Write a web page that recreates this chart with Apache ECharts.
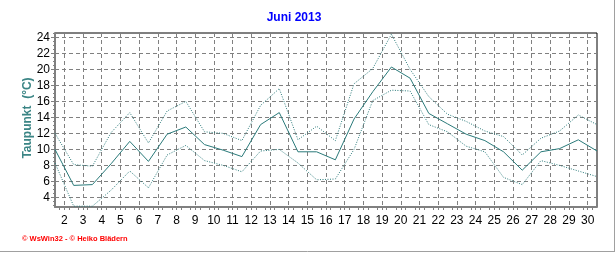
<!DOCTYPE html>
<html><head><meta charset="utf-8">
<script src="https://cdn.jsdelivr.net/npm/echarts@6/dist/echarts.min.js"></script>
<style>html,body{margin:0;padding:0;background:#fff}#c{width:616px;height:253px}</style>
</head><body><div id="c"></div>
<script>
const days = [1,2,3,4,5,6,7,8,9,10,11,12,13,14,15,16,17,18,19,20,21,22,23,24,25,26,27,28,29,30];
const xTickLabels = ['2','3','4','5','6','7','8','9','10','11','12','13','14','15','16','17','18','19','20','21','22','23','24','25','26','27','28','29','30'];
const yTickLabels = [4,6,8,10,12,14,16,18,20,22,24];
const meanValues = [10.0,5.5,5.6,8.2,11.0,8.5,11.9,12.8,10.6,9.9,9.1,13.1,14.6,9.7,9.7,8.7,13.8,17.2,20.3,18.9,14.5,13.2,11.9,11.1,9.7,7.4,9.7,10.1,11.2,9.8];
const maxValues = [12.0,8.1,7.9,12.1,14.6,10.8,14.8,16.0,12.2,12.0,11.1,15.5,17.6,11.2,12.9,11.1,18.2,20.1,24.4,20.0,16.6,14.4,13.5,12.3,11.6,9.3,11.4,12.3,14.3,13.1];
const minValues = [8.3,2.9,2.9,4.9,7.3,5.2,9.3,10.5,8.6,8.0,7.2,9.8,10.0,8.3,6.2,6.3,10.0,16.1,17.4,17.3,13.1,12.2,10.4,9.7,6.5,5.6,8.6,8.0,7.3,6.6];

const lineColor = '#2a7a7a';
const pair = arr => days.map((d, i) => [d, arr[i]]);
const yMinor = [];
for (let v = 3; v <= 24.5; v += 0.5) yMinor.push(v);

const chart = echarts.init(document.getElementById('c'), null, {renderer: 'canvas'});
const font = 'Liberation Sans, Arial, sans-serif';
chart.setOption({
  animation: false,
  backgroundColor: '#fff',
  grid: {left: 55, top: 33, width: 542, height: 174, show: true, borderColor: '#000', borderWidth: 1, backgroundColor: 'transparent'},
  xAxis: [{
    type: 'value', min: 1, max: 30, interval: 1,
    axisLine: {show: true, onZero: false, lineStyle: {color: '#808080', width: 2}},
    axisTick: {show: true, length: 3, customValues: xTickLabels.map(l => Number(l) - 0.5), lineStyle: {color: '#808080'}},
    minorTick: {show: true, splitNumber: 4, length: 3, lineStyle: {color: '#808080'}},
    axisLabel: {customValues: xTickLabels.map(l => Number(l) - 0.5), formatter: v => String(Math.round(v + 0.5)), color: '#000', fontSize: 12, fontFamily: font, margin: 8},
    splitLine: {show: true, lineStyle: {color: '#808080', type: [4, 3], width: 1}}
  }],
  yAxis: [{
    type: 'value', min: 2.8, max: 24.55,
    axisLine: {show: true, onZero: false, lineStyle: {color: '#808080', width: 2}},
    axisTick: {show: true, length: 4, customValues: yTickLabels, lineStyle: {color: '#808080'}},
    axisLabel: {customValues: yTickLabels, color: '#000', fontSize: 12, fontFamily: font, margin: 5},
    splitLine: {show: true, lineStyle: {color: '#808080', type: [4, 3], width: 1}}
  }, {
    type: 'value', min: 2.8, max: 24.55, position: 'left', offset: 0,
    axisLine: {show: false},
    axisTick: {show: true, length: 2, customValues: yMinor, lineStyle: {color: '#808080'}},
    axisLabel: {show: false},
    splitLine: {show: false}
  }],
  series: [
    {type: 'line', data: pair(maxValues), showSymbol: false, lineStyle: {color: lineColor, width: 1, type: [1, 1.5]}, z: 3},
    {type: 'line', data: pair(minValues), showSymbol: false, lineStyle: {color: lineColor, width: 1, type: [1, 1.5]}, z: 3},
    {type: 'line', data: pair(meanValues), showSymbol: false, lineStyle: {color: lineColor, width: 1}, z: 4}
  ],
  graphic: [
    {type: 'text', x: 294, y: 18, style: {text: 'Juni 2013', fill: '#0000ff', font: 'bold 12px ' + font, textAlign: 'center', textVerticalAlign: 'middle'}},
    {type: 'text', x: 28, y: 118, rotation: Math.PI / 2, style: {text: 'Taupunkt  (°C)', fill: '#3b8585', font: 'bold 12px ' + font, textAlign: 'center', textVerticalAlign: 'middle'}},
    {type: 'text', x: 22, y: 239, style: {text: '© WsWin32 - © Heiko Blädern', fill: '#ff0000', font: 'bold 7.5px ' + font, textAlign: 'left', textVerticalAlign: 'middle'}},
    {type: 'line', shape: {x1: 614.5, y1: 0, x2: 614.5, y2: 252}, style: {stroke: '#a0a0a0', lineWidth: 1}},
    {type: 'line', shape: {x1: 0, y1: 251.5, x2: 615, y2: 251.5}, style: {stroke: '#a0a0a0', lineWidth: 1}}
  ]
});
</script></body></html>
